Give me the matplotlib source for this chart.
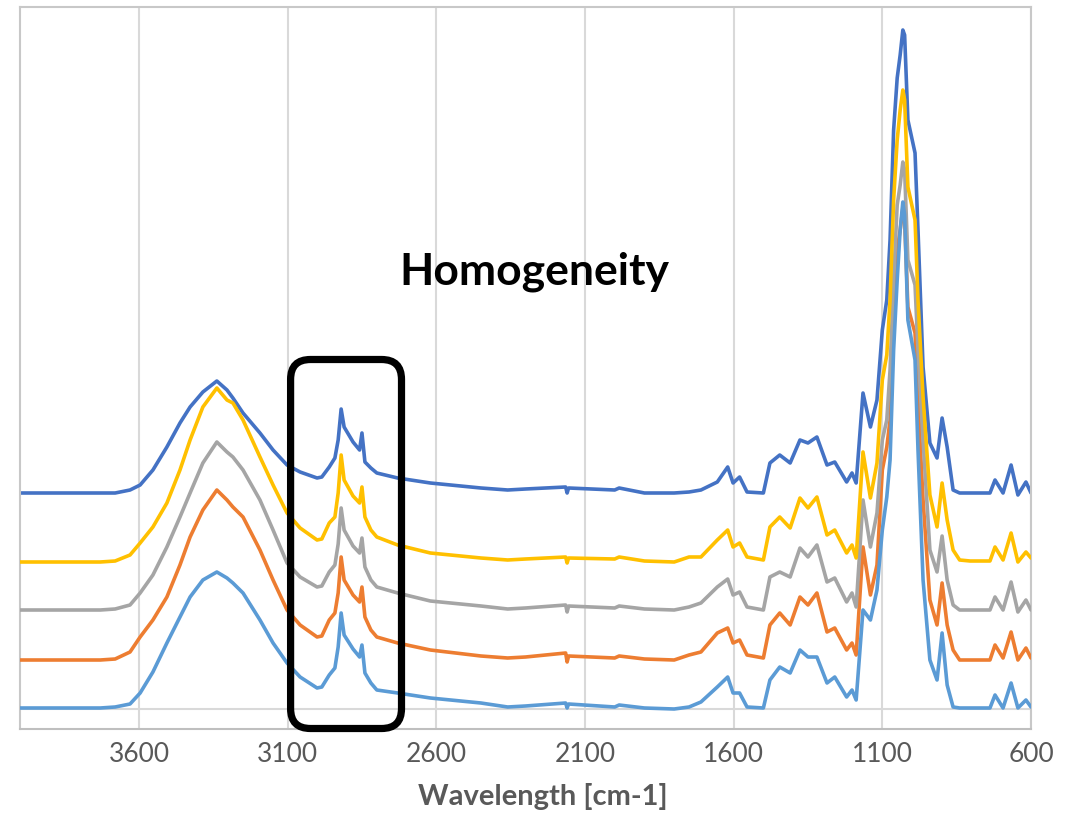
import matplotlib
matplotlib.use("Agg")
import matplotlib.pyplot as plt
from matplotlib.patches import FancyBboxPatch

# nombres d'onde (cm-1), communs aux 5 spectres
wavenumbers = [4000, 3730, 3680, 3630, 3596, 3553, 3506, 3462, 3428, 3385,
               3338, 3304, 3284, 3250, 3193, 3149, 3102, 3058, 3001, 2985,
               2960, 2941, 2930, 2920, 2910, 2880, 2858, 2850, 2840, 2820,
               2800, 2730,
               2620, 2450, 2360, 2300, 2165, 2160, 2155, 2000, 1985, 1900,
               1800, 1750, 1710, 1655, 1620, 1602, 1580, 1555, 1500, 1478,
               1445, 1410, 1377, 1350, 1320, 1286, 1260, 1220, 1202, 1188,
               1165, 1140, 1118, 1100, 1085, 1074, 1062, 1050, 1040, 1031,
               1025, 1014, 990, 980, 963, 940, 916, 899, 882, 862,
               840, 805, 738, 721, 694, 667, 644, 617, 600]

# intensites (unites arbitraires, spectres decales)
spectre_1 = [216, 216, 216, 219, 224, 239, 262, 286, 302, 317,
             328, 319, 311, 296, 276, 259, 244, 237, 231, 232,
             242, 251, 269, 300, 282, 267, 259, 276, 247, 241,
             236, 231,
             226, 221, 219, 220, 222, 216, 221, 219, 221, 216,
             216, 217, 219, 227, 242, 226, 232, 217, 216, 246,
             254, 246, 269, 266, 272, 244, 247, 227, 236, 226,
             316, 282, 309, 379, 409, 469, 579, 631, 654, 679,
             674, 589, 556, 479, 342, 266, 251, 291, 262, 219,
             216, 216, 216, 229, 216, 244, 214, 227, 216]
spectre_2 = [49, 49, 50, 57, 72, 89, 112, 144, 172, 199,
             219, 209, 202, 192, 159, 129, 99, 84, 72, 73,
             89, 96, 116, 152, 129, 114, 107, 122, 92, 79,
             72, 66,
             59, 53, 51, 52, 56, 47, 53, 51, 53, 50,
             49, 54, 57, 76, 81, 66, 69, 54, 51, 84,
             96, 84, 112, 104, 116, 77, 81, 59, 66, 54,
             162, 114, 144, 239, 262, 289, 379, 459, 479, 501,
             489, 402, 376, 309, 209, 109, 84, 126, 84, 59,
             49, 49, 49, 64, 51, 77, 49, 61, 51]
spectre_3 = [99, 99, 100, 104, 116, 134, 162, 192, 216, 246,
             267, 257, 252, 239, 209, 179, 146, 132, 122, 123,
             137, 144, 165, 201, 179, 163, 156, 171, 142, 129,
             122, 116,
             108, 103, 100, 101, 104, 97, 103, 101, 103, 100,
             99, 102, 106, 122, 130, 114, 117, 102, 99, 132,
             137, 132, 161, 152, 164, 127, 131, 107, 116, 102,
             209, 162, 196, 269, 289, 339, 429, 504, 524, 547,
             539, 449, 424, 359, 269, 159, 137, 173, 129, 104,
             99, 99, 99, 112, 99, 127, 97, 109, 99]
spectre_4 = [147, 147, 148, 154, 166, 182, 206, 239, 269, 302,
             321, 309, 306, 289, 252, 224, 196, 181, 169, 170,
             186, 192, 216, 254, 229, 213, 206, 222, 192, 179,
             172, 164,
             156, 151, 149, 150, 152, 146, 151, 150, 152, 148,
             147, 152, 152, 169, 179, 162, 166, 152, 149, 182,
             192, 181, 211, 201, 212, 174, 179, 156, 164, 151,
             257, 211, 246, 329, 354, 409, 509, 569, 599, 619,
             609, 522, 489, 409, 312, 214, 182, 226, 189, 159,
             149, 148, 148, 162, 149, 176, 147, 157, 151]
spectre_5 = [1, 1, 2, 5, 16, 37, 66, 92, 112, 129,
             137, 131, 126, 116, 89, 66, 46, 32, 21, 22,
             34, 41, 62, 96, 74, 60, 52, 64, 36, 26,
             19, 16,
             11, 6, 2, 3, 6, 1, 5, 2, 4, 1,
             0, 2, 7, 22, 32, 16, 16, 2, 1, 29,
             42, 36, 59, 52, 52, 26, 32, 12, 19, 9,
             99, 89, 119, 179, 212, 249, 359, 429, 479, 507,
             494, 389, 349, 259, 129, 49, 29, 76, 24, 2,
             1, 1, 1, 14, 1, 26, 1, 9, 2]

spectres = [spectre_1, spectre_2, spectre_3, spectre_4, spectre_5]
couleurs = ["#4472C4", "#ED7D31", "#A5A5A5", "#FFC000", "#5B9BD5"]
ticks_x = [3600, 3100, 2600, 2100, 1600, 1100, 600]

plt.rcParams['font.family'] = ['Lato', 'DejaVu Sans']

fig = plt.figure(figsize=(10.81, 8.17), dpi=100)
ax = fig.add_axes([20 / 1081, 1 - 729 / 817, 1011 / 1081, 722 / 817])

# grille et cadre facon Excel
for t in ticks_x:
    ax.axvline(t, color="#D9D9D9", lw=1.5, zorder=0)
ax.axhline(0, color="#D9D9D9", lw=1.5, zorder=0)
for cote in ["left", "top", "right"]:
    ax.spines[cote].set_color("#C8C8C8")
    ax.spines[cote].set_linewidth(1.5)
ax.spines["bottom"].set_color("#BFBFBF")
ax.spines["bottom"].set_linewidth(1.5)

for i in range(len(spectres)):
    ax.plot(wavenumbers, spectres[i], color=couleurs[i], lw=2.6,
            solid_joinstyle="round", solid_capstyle="round", zorder=2 + i)

ax.set_xlim(4000, 600)
ax.set_ylim(-20, 702)
ax.set_xticks(ticks_x)
ax.set_xticklabels([str(t) for t in ticks_x])
ax.set_yticks([])
ax.tick_params(axis="x", length=0, pad=9, labelsize=19, labelcolor="#595959")
ax.set_xlabel("Wavelength [cm-1]", fontsize=21, fontweight="bold",
              color="#595959", labelpad=12)
ax.xaxis.label.set_x(0.517)

ax.text(2271, 437, "Homogeneity", fontsize=32, fontweight="bold",
        color="black", ha="center", va="center", zorder=10)

# cadre arrondi autour des bandes C-H
cadre = FancyBboxPatch((2717, -19.5), 373, 369,
                       boxstyle="round,pad=0,rounding_size=67",
                       mutation_aspect=0.297, fill=False,
                       edgecolor="black", lw=5.2, zorder=12, clip_on=False)
ax.add_patch(cadre)

fig.savefig("out.png", dpi=100)
